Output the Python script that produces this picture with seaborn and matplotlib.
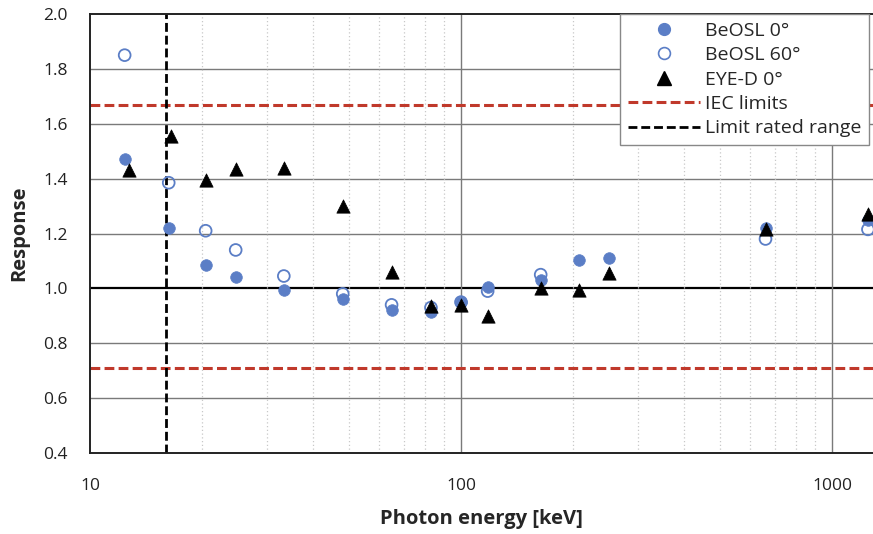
import numpy as np
import pandas as pd
import matplotlib
matplotlib.use("Agg")
import matplotlib.pyplot as plt
import seaborn as sns
from matplotlib.lines import Line2D
from matplotlib.ticker import MultipleLocator, NullFormatter, FixedLocator

# Photon energies [keV]
energy_beosl0 = [12.4, 16.3, 20.5, 24.7, 33.3, 48, 65, 83, 100, 118, 164, 208, 250, 662, 1250]
response_beosl0 = [1.47, 1.22, 1.085, 1.04, 0.995, 0.96, 0.92, 0.915, 0.95, 1.005, 1.03, 1.105, 1.11, 1.22, 1.25]

energy_beosl60 = [12.4, 16.3, 20.5, 24.7, 33.3, 48, 65, 83, 100, 118, 164, 662, 1250]
response_beosl60 = [1.85, 1.385, 1.21, 1.14, 1.045, 0.98, 0.94, 0.93, 0.95, 0.99, 1.05, 1.18, 1.215]

energy_eyed0 = [12.7, 16.5, 20.5, 24.7, 33.3, 48, 65, 83, 100, 118, 164, 208, 250, 662, 1250]
response_eyed0 = [1.43, 1.555, 1.395, 1.435, 1.44, 1.30, 1.06, 0.935, 0.94, 0.90, 1.00, 0.995, 1.055, 1.215, 1.27]

iec_limits = [0.71, 1.67]
rated_range_limit = 16.0

x_ticks = [10, 100, 1000]
x_tick_labels = ["10", "100", "1000"]
y_ticks = [0.4, 0.6, 0.8, 1.0, 1.2, 1.4, 1.6, 1.8, 2.0]

blue = "#5b7ec6"
red = "#c0392b"
dash = (0, (3.2, 1.4))

sns.set_theme(style="white")
plt.rcParams["font.family"] = ["Open Sans", "DejaVu Sans"]

fig = plt.figure(figsize=(8.73, 5.34), dpi=100)
ax = fig.add_axes([90 / 873, 81 / 534, 783 / 873, 439 / 534])

ax.set_xscale("log")
ax.set_xlim(10, 1290)
ax.set_ylim(0.4, 2.0)

# grid
for y in y_ticks:
    if abs(y - 1.0) < 1e-9:
        ax.axhline(y, color="black", lw=1.6, zorder=1)
    elif y not in (0.4, 2.0):
        ax.axhline(y, color="#7a7a7a", lw=1.0, zorder=1)
for x in [100, 1000]:
    ax.axvline(x, color="#7a7a7a", lw=1.0, zorder=1)
minor_x = [m * d for d in (10, 100) for m in range(2, 10)]
for x in minor_x:
    ax.axvline(x, color="#c8c8c8", lw=0.9, ls=(0, (1, 2)), zorder=1)

# reference lines
for lim in iec_limits:
    ax.axhline(lim, color=red, lw=2.2, ls=dash, zorder=2)
ax.axvline(rated_range_limit, color="black", lw=2.0, ls=dash, zorder=2)

# data series
df60 = pd.DataFrame({"E": energy_beosl60, "R": response_beosl60})
df0 = pd.DataFrame({"E": energy_beosl0, "R": response_beosl0})
dfe = pd.DataFrame({"E": energy_eyed0, "R": response_eyed0})

sns.scatterplot(data=df60, x="E", y="R", ax=ax, marker="o", s=72,
                facecolor="none", edgecolor=blue, linewidth=1.3, zorder=3)
sns.scatterplot(data=df0, x="E", y="R", ax=ax, marker="o", s=70,
                color=blue, edgecolor=blue, linewidth=0.5, zorder=4)
sns.scatterplot(data=dfe, x="E", y="R", ax=ax, marker="^", s=92,
                color="black", edgecolor="black", linewidth=0.5, zorder=5)

# ticks
ax.set_xticks(x_ticks)
ax.set_xticklabels(x_tick_labels)
ax.xaxis.set_minor_locator(FixedLocator(minor_x))
ax.xaxis.set_minor_formatter(NullFormatter())
ax.set_yticks(y_ticks)
ax.set_yticklabels([f"{v:.1f}" for v in y_ticks])
ax.yaxis.set_minor_locator(MultipleLocator(0.04))
ax.tick_params(axis="both", which="major", direction="in", length=0,
               labelsize=12.5, colors="#222222", pad=16)
ax.tick_params(axis="x", which="major", pad=18)
ax.tick_params(axis="both", which="minor", direction="in", length=4,
               width=0.8, color="#555555")
ax.tick_params(axis="x", which="minor", length=5)

for side in ["left", "bottom", "top"]:
    ax.spines[side].set_color("#222222")
    ax.spines[side].set_linewidth(1.4)
ax.spines["right"].set_visible(False)

ax.set_xlabel("Photon energy [keV]", fontsize=14.5, fontweight="bold", labelpad=11)
ax.set_ylabel("Response", fontsize=14.5, fontweight="bold", labelpad=10)

handles = [
    Line2D([], [], ls="none", marker="o", color=blue, markersize=8.5),
    Line2D([], [], ls="none", marker="o", markerfacecolor="none",
           markeredgecolor=blue, markeredgewidth=1.2, markersize=8.5),
    Line2D([], [], ls="none", marker="^", color="black", markersize=9.5),
    Line2D([], [], color=red, lw=2.2, ls=dash),
    Line2D([], [], color="black", lw=2.0, ls=dash),
]
labels = ["BeOSL 0°", "BeOSL 60°", "EYE-D 0°", "IEC limits", "Limit rated range"]
leg = ax.legend(handles, labels, loc="upper right", bbox_to_anchor=(1 - 4 / 783, 1.0),
                borderaxespad=0, fontsize=14, frameon=True, fancybox=False,
                framealpha=1, edgecolor="#888888", handlelength=3.7,
                handletextpad=0.25, labelspacing=0.33, borderpad=0.4)
leg.get_frame().set_linewidth(1.0)
leg.set_zorder(10)

fig.savefig("out.png", dpi=100)
